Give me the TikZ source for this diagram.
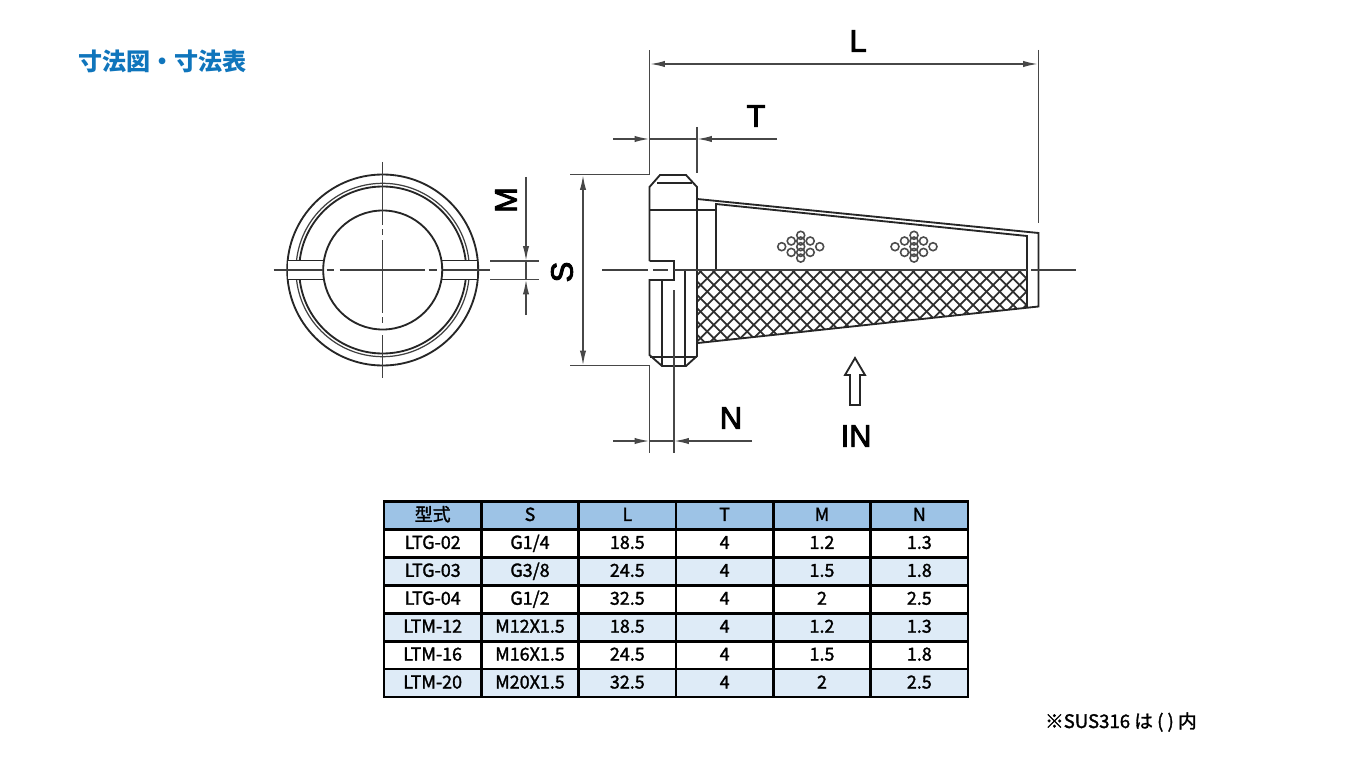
\documentclass[tikz,border=0pt]{standalone}
\usepackage{fontspec}
\setmainfont{Noto Sans CJK JP}
\newfontfamily\dimfont[FakeBold=3]{Liberation Sans}
\newfontfamily\cellfont[FakeBold=1.6]{Noto Sans CJK JP}
\usetikzlibrary{calc, arrows.meta}

\definecolor{titleblue}{HTML}{0F75BC}
\definecolor{headrow}{HTML}{9DC3E6}
\definecolor{lightrow}{HTML}{DEEBF7}

\tikzset{
    partline/.style={line width=1.05pt, black!85},
    thinline/.style={line width=0.7pt, black!75},
    dimline/.style={line width=0.9pt, black!72},
    dimtip/.style={-{Latex[length=8.5pt,width=3.6pt]}},
    dimboth/.style={{Latex[length=8.5pt,width=3.6pt]}-{Latex[length=8.5pt,width=3.6pt]}},
    hatchline/.style={line width=1pt, black!82},
    dimlabel/.style={font=\dimfont\fontsize{17.5}{18}\selectfont, inner sep=0pt},
    cell/.style={draw=black, line width=1.5pt, minimum width=1.9467cm, minimum height=0.5586cm,
        inner sep=0pt, text height=7.4pt, text depth=1.2pt, font=\cellfont\fontsize{10.2}{11}\selectfont},
}

\begin{document}
\begin{tikzpicture}[x=0.02cm, y=-0.02cm]
    \useasboundingbox (0,0) rectangle (1351,760);

    \node[anchor=west, text=titleblue, inner sep=0pt, font=\bfseries\fontsize{13.7}{14}\selectfont] (title) at (78,61) {寸法図・寸法表};

    % end view
    \coordinate (O) at (382.7,270);
    \draw[partline] (O) circle (95.5);
    \draw[thinline] (O) circle (86.7);
    \draw[partline] (O) circle (83.5);
    \fill[white] ($(O)+(-94.5,-9.5)$) rectangle ($(O)+(-59,9.5)$);
    \fill[white] ($(O)+(59,-9.5)$) rectangle ($(O)+(94.5,9.5)$);
    \draw[partline] (O) circle (59.5);
    \foreach \sx in {-1,1} {
        \draw[partline] ($(O)+(\sx*58.7,-9.5)$) -- ($(O)+(\sx*95,-9.5)$);
        \draw[partline] ($(O)+(\sx*58.7,9.5)$) -- ($(O)+(\sx*95,9.5)$);
    }
    \foreach \a/\b in {-109/-60, -56/-49, -43/42, 46/54, 60/107} {
        \draw[thinline] ($(O)+(\a,0)$) -- ($(O)+(\b,0)$);
    }
    \foreach \a/\b in {-108/-45, -41/-35, -30/43, 47/53, 65/108} {
        \draw[thinline] ($(O)+(0,\a)$) -- ($(O)+(0,\b)$);
    }

    % M
    \coordinate (Ma) at (526,261);
    \coordinate (Mb) at (526,279.5);
    \draw[dimline] (490,261) -- (539,261);
    \draw[dimline] (490,279.5) -- (539,279.5);
    \draw[dimline, dimtip] (526,177) -- (Ma);
    \draw[dimline, dimtip] (526,315) -- (Mb);
    \draw[dimline] (Ma) -- (Mb);
    \node[dimlabel, rotate=90] (labelM) at (506,200) {M};

    % side view
    \coordinate (H1) at (649.5,187);
    \coordinate (H2) at (660,175);
    \coordinate (H3) at (686,175);
    \coordinate (H4) at (697,187);
    \coordinate (H5) at (697,199);
    \coordinate (E1) at (1038.5,233);
    \coordinate (E2) at (1038.5,306.5);
    \coordinate (K1) at (698,270);
    \coordinate (K2) at (1027,270);
    \coordinate (K3) at (1027,307.7);
    \coordinate (K4) at (698,343);

    % knurl
    \begin{scope}
        \clip (K1) -- (K2) -- (K3) -- (K4) -- cycle;
        \foreach \k in {-30,...,30} {
            \draw[hatchline] (877+\k*13.3,262) -- ++(90,90);
            \draw[hatchline] (923+\k*13.3,262) -- ++(-90,90);
        }
    \end{scope}

    \draw[partline] (649.5,261) -- (H1) -- (H2) -- (H3) -- (H4) -- (H5) -- (E1) -- (E2) -- (K4);
    \draw[partline] (H5) -- (697,356) -- (686,366) -- (662,366) -- (649.5,355) -- (649.5,280) -- (674,280) -- (674,261) -- (649.5,261);
    \draw[partline] (657,183) -- (692,183);
    \draw[partline] (649.5,210) -- (716,210);
    \draw[partline] (716,270) -- (716,204) -- (1027,236) -- (K3);
    \draw[partline] (662,280) -- (662,366);
    \draw[partline] (685,270) -- (685,366);
    \draw[partline] (649.5,357) -- (697,357);
    \draw[thinline] (674,270) -- (K2);
    \draw[thinline] (602,270) -- (648,270);
    \draw[thinline] (653,270) -- (668,270);
    \draw[thinline] (1031,270) -- (1076,270);

    \foreach \cx in {800.7,914} {
        \foreach \i/\j in {-2/0,-1/-1,-1/1,0/-2,0/-1,0/0,0/1,0/2,1/-1,1/1,2/0} {
            \draw[line width=0.9pt, black!70] (\cx+\i*9.5,246.7+\j*5.7) circle (4);
        }
    }

    % extension lines
    \coordinate (Sa) at (583,175);
    \coordinate (Sb) at (583,365.5);
    \draw[dimline] (570,174.5) -- (649.5,174.5) -- (649.5,50);
    \draw[dimline] (570,365.5) -- (649.5,365.5) -- (649.5,453);
    \draw[dimline] (697,127) -- (697,173);
    \draw[dimline] (674,290) -- (674,453);
    \draw[dimline] (1038.5,50) -- (1038.5,223);

    % S
    \draw[dimline, dimboth] (Sa) -- (Sb);
    \node[dimlabel, rotate=90] (labelS) at (562,272) {S};

    % L
    \coordinate (La) at (650,64);
    \coordinate (Lb) at (1038,64);
    \draw[dimline, dimboth] (La) -- (Lb);
    \node[dimlabel] (labelL) at (858,41) {L};

    % T
    \coordinate (Ta) at (649.5,139);
    \coordinate (Tb) at (697,139);
    \draw[dimline, dimtip] (613,139) -- (Ta);
    \draw[dimline, dimtip] (777,139) -- (Tb);
    \draw[dimline] (Ta) -- (Tb);
    \node[dimlabel] (labelT) at (756,116) {T};

    % N
    \coordinate (Na) at (649.5,441);
    \coordinate (Nb) at (674,441);
    \draw[dimline, dimtip] (613,441) -- (Na);
    \draw[dimline, dimtip] (752,441) -- (Nb);
    \draw[dimline] (Na) -- (Nb);
    \node[dimlabel] (labelN) at (731,418) {N};

    % IN
    \draw[partline] (855,358) -- (865,375) -- (860,375) -- (860,405) -- (850,405) -- (850,375) -- (845,375) -- cycle;
    \node[dimlabel] (labelIN) at (856,436) {IN};

    % table
    \foreach \cells [count=\r from 0] in {
        {型式,S,L,T,M,N},
        {LTG-02,G1/4,18.5,4,1.2,1.3},
        {LTG-03,G3/8,24.5,4,1.5,1.8},
        {LTG-04,G1/2,32.5,4,2,2.5},
        {LTM-12,M12X1.5,18.5,4,1.2,1.3},
        {LTM-16,M16X1.5,24.5,4,1.5,1.8},
        {LTM-20,M20X1.5,32.5,4,2,2.5}} {
        \ifnum\r=0 \def\rowfill{headrow}\else\ifodd\r \def\rowfill{white}\else\def\rowfill{lightrow}\fi\fi
        \foreach \txt [count=\c from 0] in \cells {
            \node[cell, fill=\rowfill] (cell-\r-\c) at (432.67+\c*97.33,515.5+\r*27.93) {\txt};
        }
    }

    \node[anchor=east, inner sep=0pt, font=\cellfont\fontsize{10.6}{11}\selectfont] (note) at (1197,722) {※SUS316 は ( ) 内};
\end{tikzpicture}
\end{document}
